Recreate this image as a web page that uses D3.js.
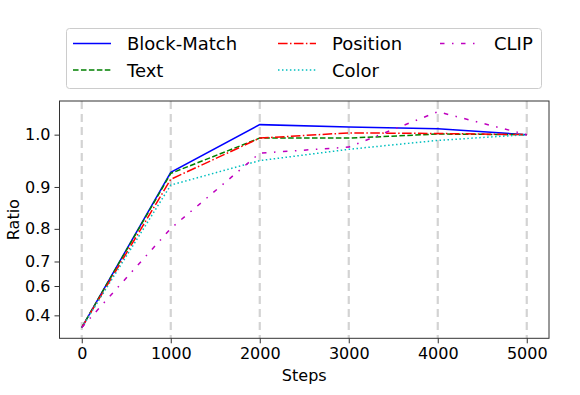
<!DOCTYPE html>
<html>
<head>
<meta charset="utf-8">
<script src="https://cdn.jsdelivr.net/npm/d3@7"></script>
<style>
  body { margin: 0; background: #fff; }
  text { font-family: "DejaVu Sans", sans-serif; fill: #000; }
</style>
</head>
<body>
<svg id="chart" width="580" height="395"></svg>
<script>
var steps = [0, 1000, 2000, 3000, 4000, 5000];
var blockMatch = [0.1, 0.930, 1.017, 1.013, 1.010, 1.0];
var textSeries = [0.1, 0.928, 0.994, 0.994, 1.001, 1.0];
var position = [0.1, 0.916, 0.994, 1.003, 1.002, 1.0];
var colorSeries = [0.1, 0.904, 0.953, 0.974, 0.990, 1.0];
var clip = [0.1, 0.801, 0.967, 0.978, 1.038, 1.0];
var yTicks = [0.4, 0.6, 0.7, 0.8, 0.9, 1.0];

var series = [
  {name: "Block-Match", values: blockMatch, color: "#0000ff", dash: null},
  {name: "Text", values: textSeries, color: "#008000", dash: "5.55,2.4"},
  {name: "Position", values: position, color: "#ff0000", dash: "9.6,2.4,1.5,2.4"},
  {name: "Color", values: colorSeries, color: "#00bfbf", dash: "1.5,2.475"},
  {name: "CLIP", values: clip, color: "#bf00bf", dash: "4.5,7.5,1.5,7.5"}
];

var svg = d3.select('#chart');
var plotLeft = 59.5, plotRight = 549, plotTop = 101, plotBottom = 338.3;

var x = d3.scaleLinear()
  .domain([-250, 5250])
  .range([plotLeft, plotRight]);

// cubic y axis, 5% margins in transformed space
var cube = function(v){ return v * v * v; };
var all = d3.merge(series.map(function(s){ return s.values; }));
var tMin = d3.min(all, cube), tMax = d3.max(all, cube);
var pad = (tMax - tMin) * 0.05;
var cbrt = function(t){ return Math.sign(t) * Math.pow(Math.abs(t), 1 / 3); };

var y = d3.scalePow().exponent(3)
  .domain([cbrt(tMin - pad), cbrt(tMax + pad)])
  .range([plotBottom, plotTop]);

// vertical grid
svg.append('g').selectAll('line')
  .data(steps)
  .enter()
  .append('line')
  .attr('x1', function(d){ return x(d); })
  .attr('x2', function(d){ return x(d); })
  .attr('y1', plotTop)
  .attr('y2', plotBottom)
  .attr('stroke', '#d3d3d3')
  .attr('stroke-width', 2.2)
  .attr('stroke-dasharray', '8,5');

var line = d3.line()
  .x(function(d, i){ return x(steps[i]); })
  .y(function(d){ return y(d); });

svg.append('g').selectAll('path')
  .data(series)
  .enter()
  .append('path')
  .attr('d', function(s){ return line(s.values); })
  .attr('fill', 'none')
  .attr('stroke', function(s){ return s.color; })
  .attr('stroke-width', 1.5)
  .attr('stroke-dasharray', function(s){ return s.dash; });

// frame
svg.append('rect')
  .attr('x', plotLeft).attr('y', plotTop)
  .attr('width', plotRight - plotLeft).attr('height', plotBottom - plotTop)
  .attr('fill', 'none')
  .attr('stroke', '#333')
  .attr('stroke-width', 1);

var xAxis = svg.append('g')
  .attr('transform', 'translate(0,' + plotBottom + ')')
  .call(d3.axisBottom(x).tickValues(steps).tickSize(5).tickPadding(4).tickFormat(d3.format('d')));
var yAxis = svg.append('g')
  .attr('transform', 'translate(' + plotLeft + ',0)')
  .call(d3.axisLeft(y).tickValues(yTicks).tickSize(5).tickPadding(4).tickFormat(d3.format('.1f')));

[xAxis, yAxis].forEach(function(a){
  a.select('.domain').remove();
  a.selectAll('line').attr('stroke', '#333');
  a.selectAll('text').style('font-size', '16px').style('font-family', '"DejaVu Sans", sans-serif');
});

svg.append('text')
  .attr('x', (plotLeft + plotRight) / 2)
  .attr('y', 381)
  .attr('text-anchor', 'middle')
  .style('font-size', '16px')
  .text('Steps');

svg.append('text')
  .attr('transform', 'translate(19,' + ((plotTop + plotBottom) / 2) + ')rotate(-90)')
  .attr('text-anchor', 'middle')
  .style('font-size', '16px')
  .text('Ratio');

// legend
var legend = svg.append('g');
legend.append('rect')
  .attr('x', 66.5).attr('y', 28.5)
  .attr('width', 475).attr('height', 60)
  .attr('rx', 3)
  .attr('fill', '#fff')
  .attr('stroke', '#ccc')
  .attr('stroke-width', 1);

var colX = [73, 278, 440];
var rowY = [43.5, 70];
var items = legend.selectAll('g.item')
  .data(series)
  .enter()
  .append('g')
  .attr('class', 'item')
  .attr('transform', function(d, i){
    var col = Math.floor(i / 2), row = i % 2;
    return 'translate(' + colX[col] + ',' + rowY[row] + ')';
  });
items.append('line')
  .attr('x1', 0).attr('x2', 38)
  .attr('y1', 0).attr('y2', 0)
  .attr('stroke', function(s){ return s.color; })
  .attr('stroke-width', 1.5)
  .attr('stroke-dasharray', function(s){ return s.dash; });
items.append('text')
  .attr('x', 54)
  .attr('y', 6.5)
  .style('font-size', '18px')
  .text(function(s){ return s.name; });
</script>
</body>
</html>
